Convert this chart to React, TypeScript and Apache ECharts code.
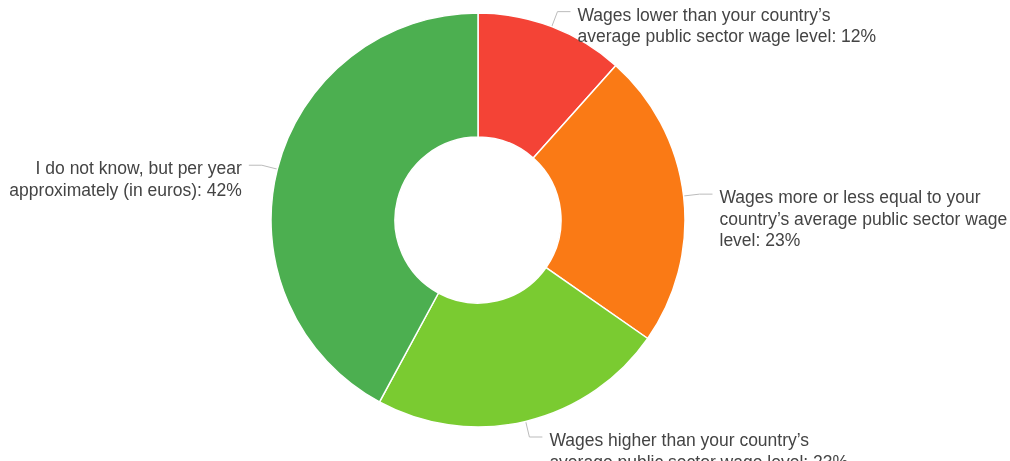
import React, { useEffect, useRef } from "react";
import * as echarts from "echarts";

const categories = [
  "Wages lower than your country’s\naverage public sector wage level",
  "Wages more or less equal to your\ncountry’s average public sector wage\nlevel",
  "Wages higher than your country’s\naverage public sector wage level",
  "I do not know, but per year\napproximately (in euros)",
];
const shares = [11.6, 23.1, 23.2, 42.1];
const colors = ["#F44336", "#FA7A15", "#7ACB31", "#4CAF50"];

export default function App() {
  const ref = useRef<HTMLDivElement>(null);
  useEffect(() => {
    const chart = echarts.init(ref.current!, null, { renderer: "svg" });
    const cx = 478, cy = 220, rOut = 207, rIn = 83;
    const total = shares.reduce((a, b) => a + b, 0);
    const mids: number[] = [];
    let acc = 0;
    shares.forEach((v) => {
      mids.push(((acc + v / 2) / total) * 2 * Math.PI);
      acc += v;
    });
    const len1 = 16, len2 = 13, gap = 7, lh = 21.5;
    chart.setOption({
      animation: false,
      series: [
        {
          type: "pie",
          center: [cx, cy],
          radius: [rIn, rOut],
          startAngle: 90,
          clockwise: true,
          avoidLabelOverlap: false,
          data: categories.map((name, i) => ({
            name,
            value: shares[i],
            itemStyle: { color: colors[i] },
          })),
          itemStyle: { borderColor: "#fff", borderWidth: 1.5 },
          label: {
            show: true,
            position: "outside",
            overflow: "none",
            formatter: (p: any) => `${p.name}: ${Math.round(p.value)}%`,
            fontFamily: "'Liberation Sans', Arial, sans-serif",
            fontSize: 17.5,
            lineHeight: lh,
            color: "#444",
          },
          labelLine: {
            show: true,
            length: len1,
            length2: len2,
            lineStyle: { color: "#bbb", width: 1 },
          },
          labelLayout: (params: any) => {
            const a = mids[params.dataIndex];
            const dx = Math.sin(a), dy = -Math.cos(a);
            const p0 = [cx + rOut * dx, cy + rOut * dy];
            const p1 = [p0[0] + len1 * dx, p0[1] + len1 * dy];
            const dir = dx < 0 ? -1 : 1;
            const p2 = [p1[0] + dir * len2, p1[1]];
            return {
              x: p2[0] + dir * gap,
              y: p2[1] + 3 - lh / 2,
              align: dir > 0 ? "left" : "right",
              verticalAlign: "top",
              labelLinePoints: [p0, p1, p2],
            };
          },
          emphasis: { disabled: true },
        },
      ],
    });
    return () => chart.dispose();
  }, []);
  return (
    <div
      ref={ref}
      style={{ position: "fixed", left: 0, top: 0, width: 1010, height: 461 }}
    />
  );
}
